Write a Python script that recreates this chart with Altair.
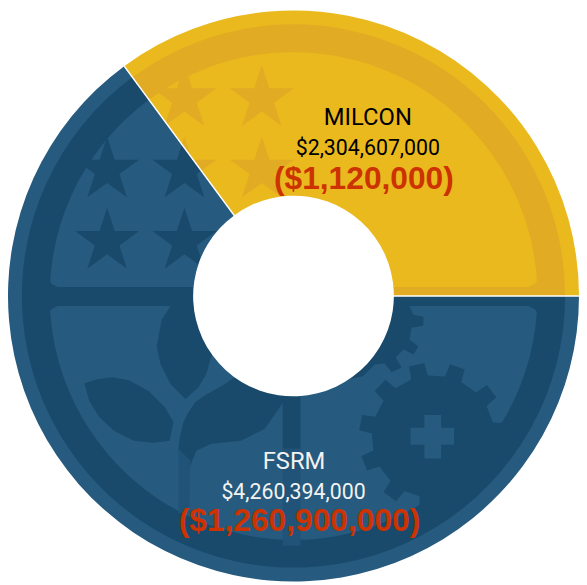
import math
import altair as alt
import pandas as pd

# ---- data ----
labels = ["MILCON", "FSRM"]
amounts = [2304607000, 4260394000]
amount_text = ["$2,304,607,000", "$4,260,394,000"]
cut_text = ["($1,120,000)", "($1,260,900,000)"]

YEL, YEL_D = "#eab91e", "#e2ab24"
BLU, BLU_D = "#265a7e", "#194a6c"
BLU_M = "#215378"
RED = "#cc3300"
CX, CY = 296, 296
W, H = 576, 576

star_x_blue = [108, 186, 108, 186]
star_y_blue = [169, 169, 241, 241]
star_x_yel = [186, 264, 186, 264]
star_y_yel = [97, 97, 169, 169]
STAR_R = 34

gear_teeth_deg = [19, 52, 85, 117, 150, 183, 216, 249, 281, 314, 347]

leaf_top = [(172, 306), (163, 320), (158, 347), (162, 365), (172, 385), (187, 400), (200, 388), (208, 375), (213, 357), (296, 300), (250, 306)]
leaf_left = [(85, 384), (98, 380), (113, 378), (130, 381), (150, 392), (166, 408), (175, 423), (171, 442), (155, 444), (135, 442), (115, 432), (100, 418), (90, 402)]
leaf_right = [(237, 378), (223, 387), (207, 396), (197, 403), (189, 415), (185, 423), (181, 440), (180, 452), (192, 467), (198, 452), (213, 445), (243, 442), (267, 430), (283, 407), (296, 385)]
stem_sliver = [(180, 450), (192, 462), (191, 515), (180, 515)]
hole_gear = [(296, 306), (413, 306), (417, 315), (427, 317), (427, 326), (415, 328), (413, 340), (422, 347), (417, 355), (407, 350), (399, 358), (405, 368), (395, 373), (388, 364), (378, 365), (366, 377), (350, 380)]
gear_fan = [(437, 438), (497, 423), (503, 425), (530, 425), (480, 490), (423, 511), (423, 500)]
plus_sign = [(428, 416), (445, 416), (445, 429), (458, 429), (458, 446), (445, 446), (445, 460), (428, 460), (428, 446), (414, 446), (414, 429), (428, 429)]
fillets_blue = [
    [(49, 287), (49, 279), (52, 284), (58, 287)],
    [(49, 306), (49, 314), (52, 309), (58, 306)],
    [(543, 306), (543, 314), (539, 309), (533, 306)],
]
fillets_yel = [[(543, 287), (543, 279), (539, 284), (533, 287)]]

total = sum(amounts)
x_scale = alt.Scale(domain=[8, 8 + W], range=[0, W], nice=False, zero=False)
y_scale = alt.Scale(domain=[8, 8 + H], range=[0, H], nice=False, zero=False)
angle_span = 2 * math.pi * amounts[0] / total
a0 = math.pi / 2 - angle_span
t_scale = alt.Scale(domain=[0, total], range=[a0, a0 + 2 * math.pi])

wedges = pd.DataFrame({"name": labels, "start": [0, amounts[0]], "end": [amounts[0], total]})


def arc(names, inner, outer, color):
    d = wedges[wedges["name"].isin(names)]
    return alt.Chart(d).mark_arc(innerRadius=inner, outerRadius=outer, color=color, opacity=1).encode(
        theta=alt.Theta("start:Q", scale=t_scale, stack=None), theta2="end:Q",
        x=alt.value(CX - 8), y=alt.value(CY - 8))


def poly(pts, color):
    ax, ay = pts[0]
    path = "M" + " L".join(f"{x - ax:.2f},{y - ay:.2f}" for x, y in pts) + " Z"
    d = pd.DataFrame({"x": [ax], "y": [ay]})
    return alt.Chart(d).mark_point(shape=path, size=4, filled=True, color=color, opacity=1, strokeWidth=0).encode(
        x=alt.X("x:Q", scale=x_scale, axis=None), y=alt.Y("y:Q", scale=y_scale, axis=None))


def rect(x0, x1, y0, y1, color):
    d = pd.DataFrame({"x": [x0], "x2": [x1], "y": [y0], "y2": [y1]})
    return alt.Chart(d).mark_rect(color=color, opacity=1).encode(
        x=alt.X("x:Q", scale=x_scale, axis=None), x2="x2:Q",
        y=alt.Y("y:Q", scale=y_scale, axis=None), y2="y2:Q")


def star_pts(cx, cy, r):
    out = []
    for i in range(10):
        rr = r if i % 2 == 0 else r * 0.382
        a = math.radians(36 * i)
        out.append((cx + rr * math.sin(a), cy - rr * math.cos(a)))
    return out


def clip_yellow(pts):
    # keep the part on the yellow side of the wedge's left edge
    ux, uy = math.sin(a0), -math.cos(a0)
    side = lambda p: ux * (p[1] - CY) - uy * (p[0] - CX)
    out = []
    for i, p in enumerate(pts):
        q = pts[(i + 1) % len(pts)]
        sp, sq = side(p), side(q)
        if sp >= 0:
            out.append(p)
        if sp * sq < 0:
            t = sp / (sp - sq)
            out.append((p[0] + t * (q[0] - p[0]), p[1] + t * (q[1] - p[1])))
    return out


def gear_pts(cx, cy, body, tip, half_base, half_top):
    out = []
    marks = []
    for t in gear_teeth_deg:
        marks += [(t - half_base, body), (t - half_top, tip), (t + half_top, tip), (t + half_base, body)]
    for ang, r in marks:
        a = math.radians(ang)
        out.append((cx + r * math.sin(a), cy - r * math.cos(a)))
    return out


layers = [
    arc(["FSRM"], 100, 288, BLU),
    arc(["FSRM"], 246, 274, BLU_D),
    rect(45, 300, 287, 306, BLU_D),
    rect(285, 303, 380, 450, BLU_D),
    rect(285, 303, 450, 548, BLU_M),
    rect(296, 545, 296, 306, BLU_D),
    poly(leaf_top, BLU_D),
    poly(leaf_left, BLU_D),
    poly(leaf_right, BLU_D),
    poly(stem_sliver, BLU_M),
    poly(hole_gear, BLU_D),
    poly(gear_fan, BLU_D),
    poly(gear_pts(437, 438, 62, 75, 8, 6), BLU_D),
    poly(plus_sign, BLU),
]
layers += [poly(f, BLU_D) for f in fillets_blue]
layers += [poly(star_pts(x, y, STAR_R), BLU_D) for x, y in zip(star_x_blue, star_y_blue)]
layers += [
    arc(["MILCON"], 100, 288, YEL),
    arc(["MILCON"], 246, 274, YEL_D),
    rect(396, 545, 287, 296, YEL_D),
]
layers += [poly(f, YEL_D) for f in fillets_yel]
layers += [poly(clip_yellow(star_pts(x, y, STAR_R)), YEL_D) for x, y in zip(star_x_yel, star_y_yel)]

# white separators between the slices
edge_x = [CX, CX + 288 * math.sin(a0)]
edge_y = [CY, CY - 288 * math.cos(a0)]
seps = pd.DataFrame({"x": [edge_x[0], CX], "x2": [edge_x[1], CX + 288], "y": [edge_y[0], CY], "y2": [edge_y[1], CY]})
layers.append(alt.Chart(seps).mark_rule(color="white", strokeWidth=1.5).encode(
    x=alt.X("x:Q", scale=x_scale, axis=None), x2="x2:Q",
    y=alt.Y("y:Q", scale=y_scale, axis=None), y2="y2:Q"))

# centre hole
hole = pd.DataFrame({"start": [0], "end": [total]})
layers.append(alt.Chart(hole).mark_arc(innerRadius=0, outerRadius=101, color="white", opacity=1).encode(
    theta=alt.Theta("start:Q", scale=t_scale, stack=None), theta2="end:Q",
    x=alt.value(CX - 8), y=alt.value(CY - 8)))


def text_layer(xs, ys, texts, colors, size, font, weight="normal"):
    d = pd.DataFrame({"x": xs, "y": ys, "t": texts, "c": colors})
    return alt.Chart(d).mark_text(fontSize=size, font=font, fontWeight=weight, baseline="alphabetic", align="center").encode(
        x=alt.X("x:Q", scale=x_scale, axis=None), y=alt.Y("y:Q", scale=y_scale, axis=None),
        text="t:N", color=alt.Color("c:N", scale=None))


NARROW = "Roboto"
layers += [
    text_layer([371, 296.5], [124, 471], labels, ["#000000", "#f2f2f2"], 24, NARROW),
    text_layer([371, 296], [154, 501], amount_text, ["#000000", "#f2f2f2"], 21.5, NARROW),
    text_layer([367], [188], cut_text[:1], [RED], 32, "Liberation Sans", "bold"),
    text_layer([302], [533], cut_text[1:], [RED], 32, "Liberation Sans", "bold"),
]

chart = alt.layer(*layers).properties(
    width=W, height=H, padding=0, background="white", autosize=alt.AutoSizeParams(type="none")
).configure_view(stroke=None)

chart.save("out.html", embed_options={"renderer": "svg", "actions": False})
